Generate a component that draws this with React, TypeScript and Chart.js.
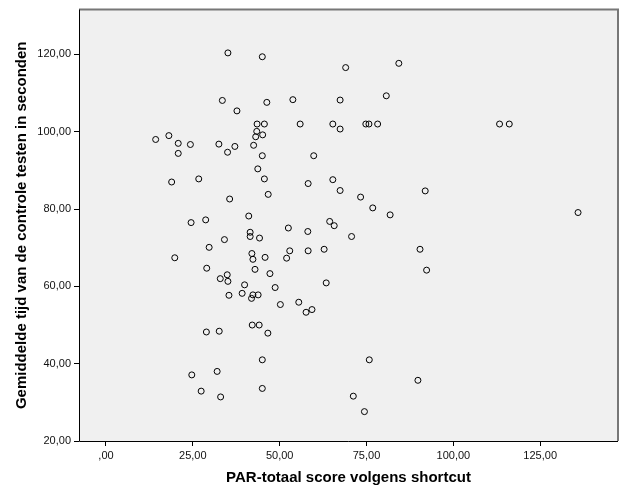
import React, { useEffect, useRef } from "react";
import { Chart, registerables } from "chart.js";

Chart.register(...registerables);

const parScores = [
  35.1, 45.0, 69.0, 84.3, 33.5, 46.3, 53.8, 67.4, 80.7, 37.7,
  43.5, 45.6, 55.9, 65.3, 74.8, 75.7, 78.2, 113.3, 116.1, 67.4,
  43.4, 43.1, 45.1, 14.3, 18.1, 20.8, 24.3, 20.8, 32.5, 37.1,
  35.0, 42.5, 45.0, 59.8, 43.7, 45.6, 18.9, 26.7, 58.2, 65.3,
  67.4, 73.3, 46.7, 35.6, 76.8, 81.8, 91.9, 135.9, 41.1, 24.5,
  28.7, 64.4, 65.7, 52.5, 58.1, 41.5, 41.5, 44.2, 34.1, 70.7,
  29.7, 19.8, 42.0, 42.3, 45.8, 52.9, 52.0, 58.2, 62.8, 90.4,
  92.3, 29.0, 42.9, 47.2, 34.9, 32.9, 35.1, 39.9, 48.7, 63.4,
  39.2, 42.3, 43.8, 41.9, 35.4, 50.2, 55.5, 57.6, 59.3, 28.9,
  32.6, 42.1, 44.1, 46.6, 45.0, 75.8, 24.7, 32.0, 89.8, 27.4,
  33.0, 45.0, 71.2, 74.4,
];

const meanTimes = [
  120.4, 119.4, 116.6, 117.7, 108.1, 107.6, 108.3, 108.2, 109.3, 105.4,
  102.0, 102.0, 102.0, 102.0, 102.0, 102.0, 102.0, 102.0, 102.0, 100.7,
  100.1, 98.7, 99.2, 98.0, 99.0, 97.0, 96.7, 94.4, 96.8, 96.2,
  94.7, 96.5, 93.8, 93.8, 90.4, 87.8, 87.0, 87.8, 86.6, 87.6,
  84.8, 83.1, 83.8, 82.6, 80.3, 78.5, 84.7, 79.1, 78.2, 76.5,
  77.2, 76.8, 75.7, 75.1, 74.2, 74.0, 72.9, 72.5, 72.1, 72.9,
  70.1, 67.4, 68.5, 67.0, 67.5, 69.2, 67.3, 69.2, 69.6, 69.6,
  64.2, 64.7, 64.4, 63.3, 63.0, 62.0, 61.3, 60.4, 59.7, 60.9,
  58.2, 57.8, 57.8, 56.9, 57.7, 55.3, 55.9, 53.3, 54.0, 48.2,
  48.4, 50.0, 50.0, 47.9, 41.0, 41.0, 37.1, 38.0, 35.7, 32.9,
  31.4, 33.6, 31.6, 27.6,
];

const xTickValues = [0, 25, 50, 75, 100, 125];
const xTickLabels = [",00", "25,00", "50,00", "75,00", "100,00", "125,00"];
const yTickValues = [20, 40, 60, 80, 100, 120];
const yTickLabels = ["20,00", "40,00", "60,00", "80,00", "100,00", "120,00"];

const xTitle = "PAR-totaal score volgens shortcut";
const yTitle = "Gemiddelde tijd van de controle testen in seconden";

const FONT = "'Liberation Sans', Arial, sans-serif";

const framePlugin = {
  id: "frame",
  beforeDraw(chart: any) {
    const { ctx, chartArea: a } = chart;
    ctx.save();
    ctx.fillStyle = "#ffffff";
    ctx.fillRect(0, 0, chart.width, chart.height);
    ctx.fillStyle = "#f0f0f0";
    ctx.fillRect(a.left, a.top, a.right - a.left, a.bottom - a.top);
    ctx.restore();
  },
  beforeDatasetsDraw(chart: any) {
    const { ctx, chartArea: a } = chart;
    ctx.save();
    ctx.strokeStyle = "#777777";
    ctx.lineWidth = 2;
    ctx.beginPath();
    ctx.moveTo(a.left, a.top);
    ctx.lineTo(a.right, a.top);
    ctx.lineTo(a.right, a.bottom);
    ctx.stroke();
    ctx.strokeStyle = "#000000";
    ctx.lineWidth = 1;
    ctx.beginPath();
    ctx.moveTo(a.left + 0.5, a.top);
    ctx.lineTo(a.left + 0.5, a.bottom + 0.5);
    ctx.lineTo(a.right, a.bottom + 0.5);
    ctx.stroke();
    ctx.restore();
  },
};

export default function App() {
  const ref = useRef<HTMLCanvasElement | null>(null);

  useEffect(() => {
    if (!ref.current) return;
    const points = parScores.map((x, i) => ({ x, y: meanTimes[i] }));
    const chart = new Chart(ref.current, {
      type: "scatter",
      data: {
        datasets: [
          {
            data: points,
            pointStyle: "circle",
            pointRadius: 3,
            pointBorderWidth: 1,
            pointBorderColor: "#000000",
            pointBackgroundColor: "rgba(0,0,0,0)",
          },
        ],
      },
      plugins: [framePlugin],
      options: {
        animation: false,
        responsive: false,
        devicePixelRatio: 1,
        layout: {
          autoPadding: false,
          padding: { top: 4.7, right: 8, left: 0, bottom: 0 },
        },
        plugins: {
          legend: { display: false },
          tooltip: { enabled: false },
        },
        scales: {
          x: {
            type: "linear",
            min: -7.77,
            max: 147.4,
            afterBuildTicks: (s: any) => {
              s.ticks = xTickValues.map((v) => ({ value: v }));
            },
            afterFit: (s: any) => {
              s.height = 60;
            },
            ticks: {
              color: "#111111",
              font: { family: FONT, size: 11 },
              padding: 3,
              maxRotation: 0,
              callback: (v: any) => {
                const i = xTickValues.indexOf(Number(v));
                return i >= 0 ? xTickLabels[i] : "";
              },
            },
            grid: {
              drawOnChartArea: false,
              drawTicks: true,
              tickLength: 5,
              color: "#000000",
            },
            border: { display: false },
            title: {
              display: true,
              text: xTitle,
              color: "#000000",
              font: { family: FONT, size: 15, weight: "bold" },
              padding: { top: 0, bottom: 14 },
            },
          },
          y: {
            type: "linear",
            min: 20,
            max: 131.6,
            afterBuildTicks: (s: any) => {
              s.ticks = yTickValues.map((v) => ({ value: v }));
            },
            afterFit: (s: any) => {
              s.width = 79;
            },
            ticks: {
              color: "#111111",
              font: { family: FONT, size: 11 },
              padding: 3,
              callback: (v: any) => {
                const i = yTickValues.indexOf(Number(v));
                return i >= 0 ? yTickLabels[i] : "";
              },
            },
            grid: {
              drawOnChartArea: false,
              drawTicks: true,
              tickLength: 5,
              color: "#000000",
            },
            border: { display: false },
            title: {
              display: true,
              text: yTitle,
              color: "#000000",
              font: { family: FONT, size: 15, weight: "bold" },
              padding: { top: 13, bottom: 0 },
            },
          },
        },
      },
    });
    return () => chart.destroy();
  }, []);

  return (
    <div style={{ position: "absolute", left: 0, top: 0, width: 626, height: 501, background: "#ffffff" }}>
      <canvas ref={ref} width={626} height={501} style={{ display: "block", width: 626, height: 501 }} />
    </div>
  );
}
